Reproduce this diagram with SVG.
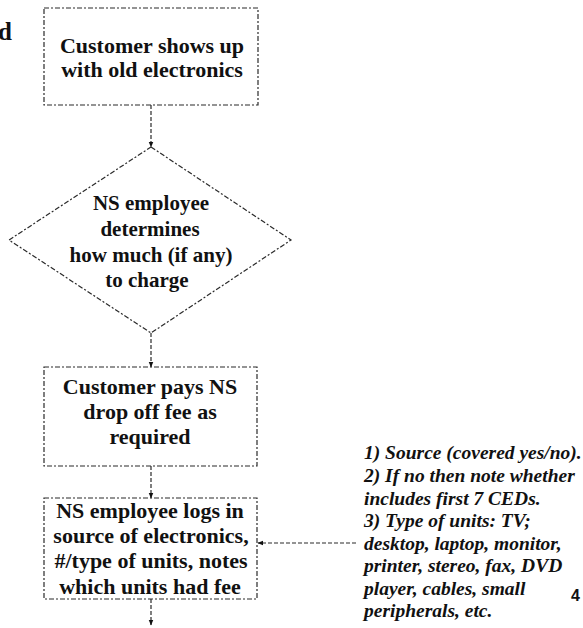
<svg xmlns="http://www.w3.org/2000/svg" width="583" height="628" viewBox="0 0 583 628">
  <style>
    .shape { fill: none; stroke: #2a2a2a; stroke-width: 1.2; stroke-dasharray: 5 2 2 2; }
    .link { fill: none; stroke: #2a2a2a; stroke-width: 1.2; stroke-dasharray: 4 2; }
    .label { font-family: "Liberation Serif", "Times New Roman", serif; font-weight: bold; font-size: 22px; fill: #111; text-anchor: middle; }
    .decision { font-size: 21px; }
    .note { font-family: "Liberation Serif", "Times New Roman", serif; font-weight: bold; font-style: italic; font-size: 19.5px; fill: #111; }
    .page { font-family: "Liberation Sans", Arial, sans-serif; font-weight: bold; font-size: 16px; fill: #111; }
  </style>
  <defs>
    <marker id="arrow" viewBox="0 0 10 10" refX="9" refY="5" markerWidth="6" markerHeight="6" orient="auto" markerUnits="userSpaceOnUse">
      <path d="M0,1 L10,5 L0,9 Z" fill="#111"/>
    </marker>
  </defs>

  <rect width="583" height="628" fill="#fff"/>

  <!-- fragment of a heading clipped at the page edge -->
  <text x="-2" y="40" class="label" style="text-anchor:start;font-size:25px">d</text>

  <g id="connectors">
    <line class="link" x1="151" y1="105" x2="151" y2="147" marker-end="url(#arrow)"/>
    <line class="link" x1="151" y1="333" x2="151" y2="367" marker-end="url(#arrow)"/>
    <line class="link" x1="151" y1="466" x2="151" y2="498" marker-end="url(#arrow)"/>
    <line class="link" x1="151" y1="599" x2="151" y2="625" marker-end="url(#arrow)"/>
    <line class="link" x1="356" y1="543" x2="258" y2="543" marker-end="url(#arrow)"/>
  </g>

  <g id="arrival">
    <rect class="shape" x="44" y="8" width="214" height="97"/>
    <text class="label" x="152" y="53">Customer shows up</text>
    <text class="label" x="152" y="77">with old electronics</text>
  </g>

  <g id="charge-decision">
    <polygon class="shape" points="151,147 291,240 151,333 9,240"/>
    <text class="label decision" x="151" y="210">NS employee</text>
    <text class="label decision" x="150" y="236">determines</text>
    <text class="label decision" x="151" y="262">how much (if any)</text>
    <text class="label decision" x="147" y="287">to charge</text>
  </g>

  <g id="fee-payment">
    <rect class="shape" x="44" y="367" width="213" height="99"/>
    <text class="label" x="150" y="394">Customer pays NS</text>
    <text class="label" x="150" y="419">drop off fee as</text>
    <text class="label" x="150" y="444">required</text>
  </g>

  <g id="unit-log">
    <rect class="shape" x="44" y="498" width="213" height="101"/>
    <text class="label" x="150" y="518">NS employee logs in</text>
    <text class="label" x="151" y="543">source of electronics,</text>
    <text class="label" x="151" y="568">#/type of units, notes</text>
    <text class="label" x="150" y="594">which units had fee</text>
  </g>

  <g id="log-details">
    <text class="note" x="364" y="459">1) Source (covered yes/no).</text>
    <text class="note" x="364" y="482">2) If no then note whether</text>
    <text class="note" x="364" y="505">includes first 7 CEDs.</text>
    <text class="note" x="364" y="527">3) Type of units: TV;</text>
    <text class="note" x="364" y="550">desktop, laptop, monitor,</text>
    <text class="note" x="364" y="572">printer, stereo, fax, DVD</text>
    <text class="note" x="364" y="595">player, cables, small</text>
    <text class="note" x="364" y="617">peripherals, etc.</text>
  </g>

  <text class="page" x="571" y="601">4</text>
</svg>
